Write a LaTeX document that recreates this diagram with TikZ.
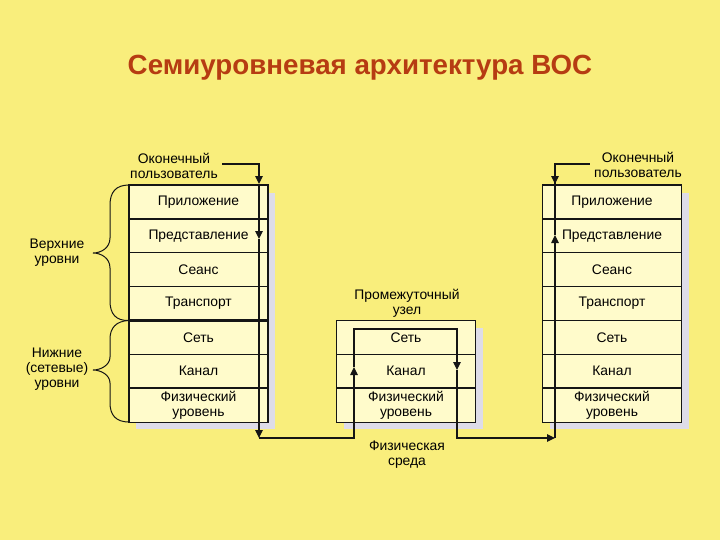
\documentclass[tikz,border=0pt]{standalone}
\usepackage{fontspec}
\setmainfont{Liberation Sans}
\usetikzlibrary{arrows.meta,backgrounds}
\definecolor{cPage}{HTML}{F9EE7C}
\definecolor{cCell}{HTML}{FFFBCB}
\definecolor{cShade}{HTML}{DEDCE8}
\definecolor{cTitle}{HTML}{B63C12}
\definecolor{cInk}{HTML}{151515}
\tikzset{
  cell/.style  = {draw=cInk, fill=cCell, line width=0.8pt, align=center,
                  minimum width=104.25pt, minimum height=25.4pt,
                  inner sep=0pt, outer sep=0pt, font=\fontsize{10.4}{11.3}\selectfont},
  lbl/.style   = {align=center, font=\fontsize{10.4}{11.3}\selectfont},
  sep/.style   = {draw=cInk, line width=1.8pt},
  wire/.style  = {draw=cInk, line width=0.8pt},
  flow/.style  = {wire, -{Triangle[length=6pt,width=5.6pt]}},
  brc/.style   = {draw=cInk, line width=0.75pt},
  shade/.style = {fill=cShade},
}

\begin{document}
\begin{tikzpicture}[x=0.75pt, y=-0.75pt]
  \useasboundingbox (0,0) rectangle (720,540);
  \node[font=\fontsize{20.8}{24}\selectfont\bfseries, text=cTitle] (title) at (360,68)
    {Семиуровневая архитектура ВОС};
  % end systems and the relay node
  \foreach \s/\x in {L/198.5,R/612}
    \foreach \t [count=\i] in {Приложение,Представление,Сеанс,Транспорт,Сеть,Канал,{Физический\\уровень}}
      \node[cell] (\s\i) at (\x,{185+(\i-0.5)*33.86}) {\t};
  \foreach \t [count=\i from 5] in {Сеть,Канал,{Физический\\уровень}}
    \node[cell] (M\i) at (406,{185+(\i-0.5)*33.86}) {\t};
  % heavier borders
  \foreach \n in {L2,L5,L7,R2,R7,M7}
    \draw[sep] (\n.north west) -- (\n.north east);
  % labels
  \node[lbl] (uL) at (174,166) {Оконечный\\пользователь};
  \node[lbl] (uR) at (638,165) {Оконечный\\пользователь};
  \node[lbl] (relay) at (407,303) {Промежуточный\\узел};
  \node[lbl] (medium) at (407,455) {Физическая\\среда};
  \node[lbl] (upper) at (57,253) {Верхние\\уровни};
  \node[lbl] (lower) at (57,369) {Нижние\\(сетевые)\\уровни};
  % braces
  \draw[brc] (L1.north west) .. controls (116,185) and (110,192) .. (110,205)
    -- (110,238) .. controls (110,248) and (101,253) .. (93,253)
    .. controls (101,253) and (110,258) .. (110,268)
    -- (110,301) .. controls (110,314) and (116,321) .. (L4.south west);
  \draw[brc] (L5.north west) .. controls (116,321) and (110,328) .. (110,339)
    -- (110,357) .. controls (110,365) and (101,370) .. (93,370)
    .. controls (101,370) and (110,375) .. (110,383)
    -- (110,403) .. controls (110,415) and (116,422) .. (L7.south west);
  % data path
  \coordinate (c1) at (259,164);
  \coordinate (a1) at (259,184);
  \coordinate (a2) at (259,239);
  \coordinate (c2) at (259,438);
  \coordinate (c3) at (354,438);
  \coordinate (a3) at (354,367);
  \coordinate (c4) at (354,329);
  \coordinate (c5) at (457,329);
  \coordinate (a4) at (457,370);
  \coordinate (c6) at (457,438);
  \coordinate (a5) at (555,438);
  \coordinate (a6) at (555,235);
  \coordinate (c7) at (555,164);
  \coordinate (a7) at (555,184);
  \draw[flow] (uL.east |- c1) -- (c1) -- (a1);
  \draw[flow] (a1) -- (a2);
  \draw[flow] (a2) -- (c2);
  \draw[flow] (c2) -- (c3) -- (a3);
  \draw[flow] (a3) -- (c4) -- (c5) -- (a4);
  \draw[flow] (a4) -- (c6) -- (a5);
  \draw[flow] (a5) -- (a6);
  \draw[wire] (a6) -- (c7) -- (uR.west |- c7);
  \draw[flow] (c7) -- (a7);
  % page and shadows
  \begin{scope}[on background layer]
    \fill[cPage] (0,0) rectangle (720,540);
    \foreach \a/\b in {L1/L7,R1/R7,M5/M7}
      \fill[shade] ([shift={(7,8)}]\a.north west) rectangle ([shift={(7,7)}]\b.south east);
  \end{scope}
\end{tikzpicture}
\end{document}
